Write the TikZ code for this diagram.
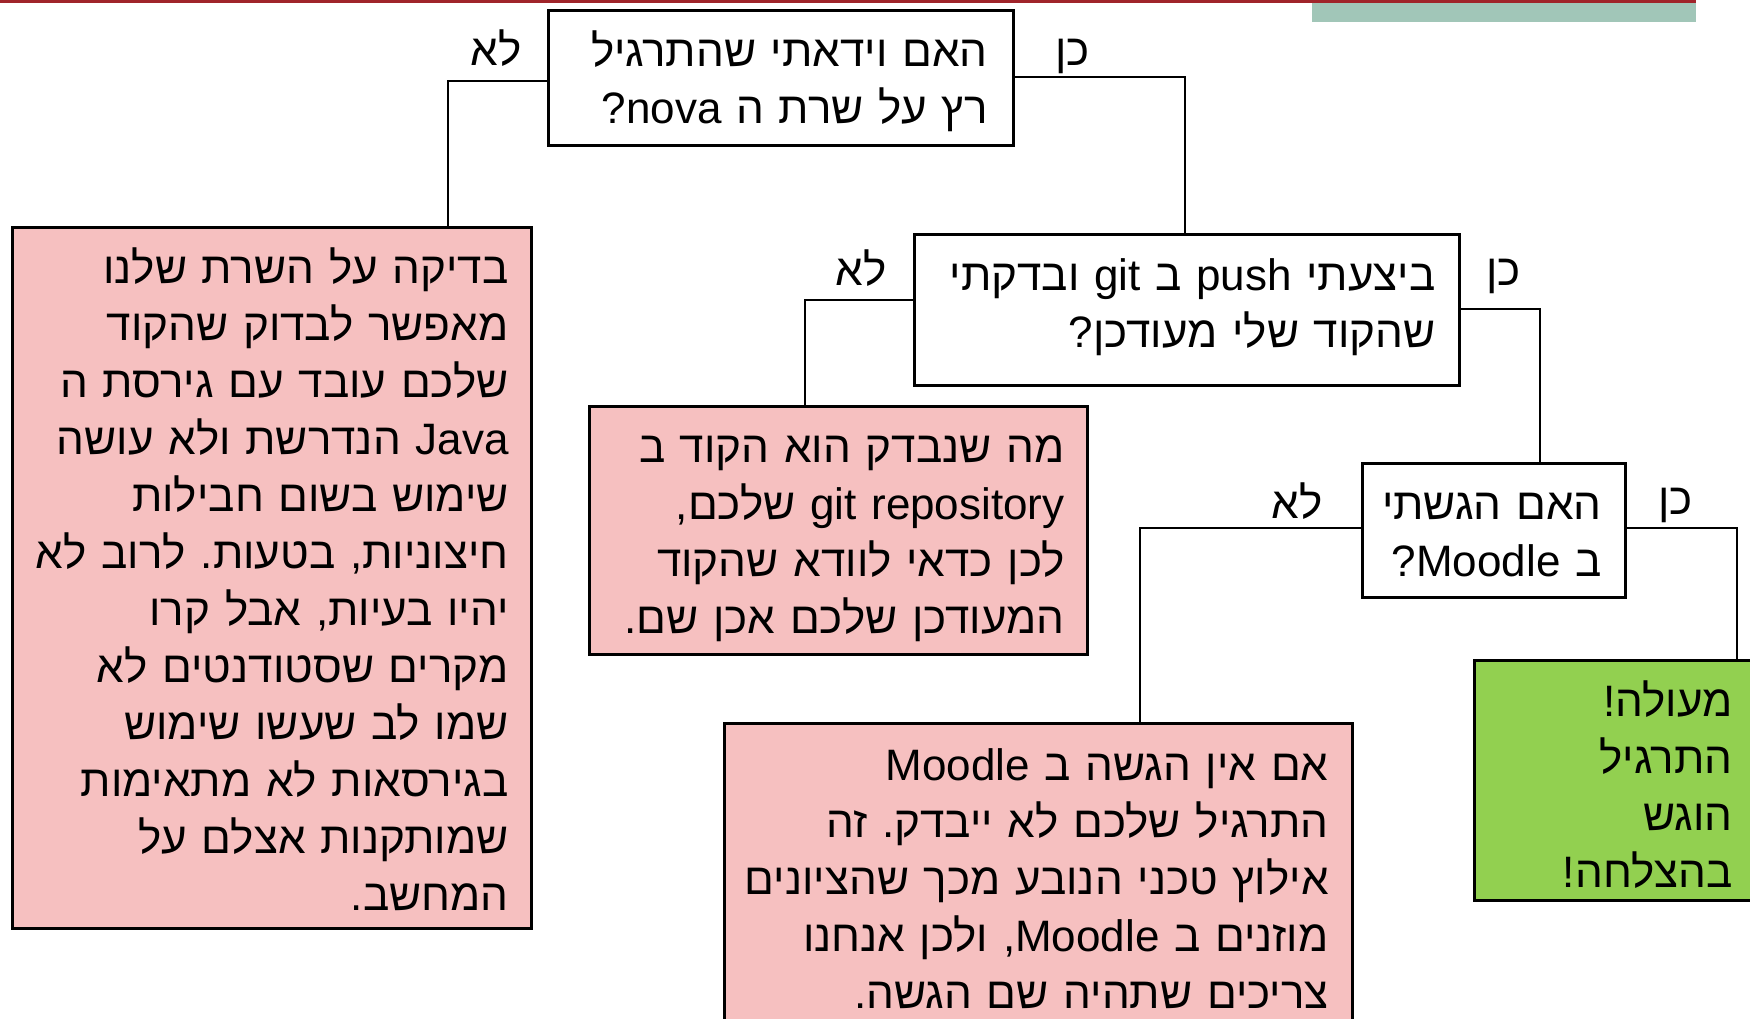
\documentclass[tikz,border=0pt]{standalone}
\usepackage{fontspec}
\setmainfont{Liberation Sans}
\newfontfamily\hebfont[Script=Hebrew]{Liberation Sans}
\TeXXeTstate=1
\frenchspacing
\newcommand\RLline[1]{\beginR#1\endR}
\definecolor{pinkfill}{RGB}{246,192,192}
\definecolor{greenfill}{RGB}{146,208,80}
\definecolor{tealbar}{RGB}{161,198,184}
\definecolor{redbar}{RGB}{160,36,42}
\begin{document}
\begin{tikzpicture}[x=0.5pt,y=-0.5pt,
  boxstyle/.style={draw=black, line width=1.25pt, inner sep=0pt, anchor=north west},
  qbox/.style={boxstyle, fill=white},
  pbox/.style={boxstyle, fill=pinkfill},
  gbox/.style={boxstyle, fill=greenfill},
  txt/.style={inner sep=0pt, text width=400pt, align=right, anchor=base east,
    font=\hebfont\frenchspacing\fontsize{22}{28.5}\selectfont},
  lbl/.style={inner sep=0pt, anchor=base east, font=\hebfont\fontsize{22}{25}\selectfont},
  conn/.style={draw=black, line width=0.75pt}]
\useasboundingbox (0,0) rectangle (1750,1018);
% top decoration
\fill[tealbar] (1312,0) rectangle (1696,22);
\fill[redbar] (0,0) rectangle (1696,2.5);
% boxes
\node[qbox, minimum width=232.5pt, minimum height=67.5pt] (q1) at (547,9) {};
\node[pbox, minimum width=259.5pt, minimum height=350.5pt] (a1) at (11,226) {};
\node[qbox, minimum width=272.5pt, minimum height=75.5pt] (q2) at (913,233) {};
\node[pbox, minimum width=249pt, minimum height=124pt] (a2) at (588,405) {};
\node[qbox, minimum width=131.5pt, minimum height=67pt] (q3) at (1361,462) {};
\node[pbox, minimum width=314pt, minimum height=160pt] (a3) at (723,722) {};
\node[gbox, minimum width=145pt, minimum height=120pt] (a4) at (1473,659) {};
% junctions
\coordinate (j1) at (448,81);
\coordinate (j2) at (1185,77);
\coordinate (j3) at (805,300);
\coordinate (j4) at (1540,309);
\coordinate (j5) at (1140,528);
\coordinate (j6) at (1737,528);
% connectors
\draw[conn] (q1.west |- j1) -- (j1) -- (j1 |- a1.north);
\draw[conn] (q1.east |- j2) -- (j2) -- (j2 |- q2.north);
\draw[conn] (q2.west |- j3) -- (j3) -- (j3 |- a2.north);
\draw[conn] (q2.east |- j4) -- (j4) -- (j4 |- q3.north);
\draw[conn] (q3.west |- j5) -- (j5) -- (j5 |- a3.north);
\draw[conn] (q3.east |- j6) -- (j6) -- (j6 |- a4.north);
% texts
\node[txt] (t1) at (988,66) {\RLline{האם וידאתי שהתרגיל}\\
\RLline{רץ על שרת ה nova\kern0pt?}};
\node[txt] (ta1) at (509,283) {\RLline{בדיקה על השרת שלנו}\\
\RLline{מאפשר לבדוק שהקוד}\\
\RLline{שלכם עובד עם גירסת ה}\\
\RLline{Java הנדרשת ולא עושה}\\
\RLline{שימוש בשום חבילות}\\
\RLline{חיצוניות\kern0pt, בטעות\kern0pt. לרוב לא}\\
\RLline{יהיו בעיות\kern0pt, אבל קרו}\\
\RLline{מקרים שסטודנטים לא}\\
\RLline{שמו לב שעשו שימוש}\\
\RLline{בגירסאות לא מתאימות}\\
\RLline{שמותקנות אצלם על}\\
\RLline{המחשב\kern0pt.}};
\node[txt] (t2) at (1436,290) {\RLline{ביצעתי push ב git ובדקתי}\\
\RLline{שהקוד שלי מעודכן\kern0pt?}};
\node[txt] (ta2) at (1065,462) {\RLline{מה שנבדק הוא הקוד ב}\\
\RLline{\beginL git repository\endL{} שלכם\kern0pt,}\\
\RLline{לכן כדאי לוודא שהקוד}\\
\RLline{המעודכן שלכם אכן שם\kern0pt.}};
\node[txt] (t3) at (1602,519) {\RLline{האם הגשתי}\\
\RLline{ב Moodle\kern0pt?}};
\node[txt] (ta3) at (1329,780) {\RLline{אם אין הגשה ב Moodle}\\
\RLline{התרגיל שלכם לא ייבדק\kern0pt. זה}\\
\RLline{אילוץ טכני הנובע מכך שהציונים}\\
\RLline{מוזנים ב Moodle\kern0pt, ולכן אנחנו}\\
\RLline{צריכים שתהיה שם הגשה\kern0pt.}};
\node[txt] (ta4) at (1733,716) {\RLline{מעולה\kern0pt!}\\
\RLline{התרגיל}\\
\RLline{הוגש}\\
\RLline{בהצלחה\kern0pt!}};
% branch labels
\node[lbl] (n1) at (522,65) {\RLline{לא}};
\node[lbl] (y1) at (1090,65) {\RLline{כן}};
\node[lbl] (n2) at (887,285) {\RLline{לא}};
\node[lbl] (y2) at (1521,285) {\RLline{כן}};
\node[lbl] (n3) at (1323,518) {\RLline{לא}};
\node[lbl] (y3) at (1693,514) {\RLline{כן}};
\end{tikzpicture}
\end{document}
